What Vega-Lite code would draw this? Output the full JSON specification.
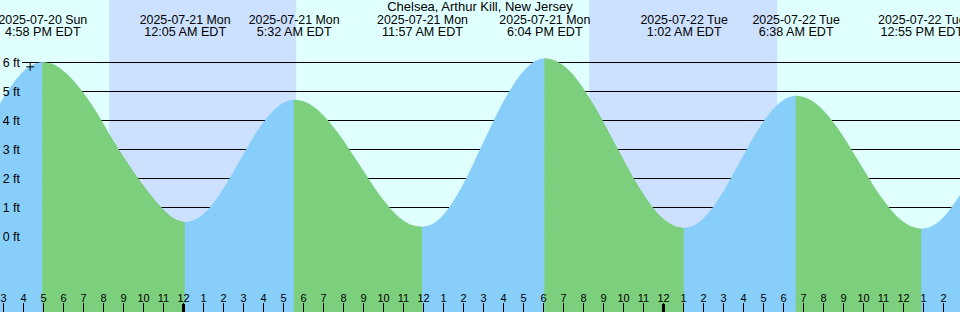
{
  "$schema": "https://vega.github.io/schema/vega-lite/v6.json",
  "width": 960,
  "height": 312,
  "autosize": {"type": "none"},
  "padding": 0,
  "background": "#e0ffff",
  "config": {"view": {"stroke": null}, "font": "Liberation Sans"},
  "datasets": {
    "night": [
      {"start": "2025-07-20T20:17", "end": "2025-07-21T05:38"},
      {"start": "2025-07-21T20:17", "end": "2025-07-22T05:41"}
    ],
    "grid": [
      {"ft": 0, "label": "0 ft"}, {"ft": 1, "label": "1 ft"}, {"ft": 2, "label": "2 ft"}, {"ft": 3, "label": "3 ft"},
      {"ft": 4, "label": "4 ft"}, {"ft": 5, "label": "5 ft"}, {"ft": 6, "label": "6 ft"}
    ],
    "hours": [
      {"time": "2025-07-20T15:00"}, {"time": "2025-07-20T16:00"}, {"time": "2025-07-20T17:00"}, {"time": "2025-07-20T18:00"},
      {"time": "2025-07-20T19:00"}, {"time": "2025-07-20T20:00"}, {"time": "2025-07-20T21:00"}, {"time": "2025-07-20T22:00"},
      {"time": "2025-07-20T23:00"}, {"time": "2025-07-21T00:00"}, {"time": "2025-07-21T01:00"}, {"time": "2025-07-21T02:00"},
      {"time": "2025-07-21T03:00"}, {"time": "2025-07-21T04:00"}, {"time": "2025-07-21T05:00"}, {"time": "2025-07-21T06:00"},
      {"time": "2025-07-21T07:00"}, {"time": "2025-07-21T08:00"}, {"time": "2025-07-21T09:00"}, {"time": "2025-07-21T10:00"},
      {"time": "2025-07-21T11:00"}, {"time": "2025-07-21T12:00"}, {"time": "2025-07-21T13:00"}, {"time": "2025-07-21T14:00"},
      {"time": "2025-07-21T15:00"}, {"time": "2025-07-21T16:00"}, {"time": "2025-07-21T17:00"}, {"time": "2025-07-21T18:00"},
      {"time": "2025-07-21T19:00"}, {"time": "2025-07-21T20:00"}, {"time": "2025-07-21T21:00"}, {"time": "2025-07-21T22:00"},
      {"time": "2025-07-21T23:00"}, {"time": "2025-07-22T00:00"}, {"time": "2025-07-22T01:00"}, {"time": "2025-07-22T02:00"},
      {"time": "2025-07-22T03:00"}, {"time": "2025-07-22T04:00"}, {"time": "2025-07-22T05:00"}, {"time": "2025-07-22T06:00"},
      {"time": "2025-07-22T07:00"}, {"time": "2025-07-22T08:00"}, {"time": "2025-07-22T09:00"}, {"time": "2025-07-22T10:00"},
      {"time": "2025-07-22T11:00"}, {"time": "2025-07-22T12:00"}, {"time": "2025-07-22T13:00"}, {"time": "2025-07-22T14:00"}
    ],
    "midnight": [{"time": "2025-07-21T00:00"}, {"time": "2025-07-22T00:00"}],
    "tide": [
      {"seg": "A", "phase": "rising", "time": "2025-07-20T14:47", "ft": 4.52},
      {"seg": "A", "phase": "rising", "time": "2025-07-20T15:30", "ft": 5.27},
      {"seg": "A", "phase": "rising", "time": "2025-07-20T16:00", "ft": 5.68},
      {"seg": "A", "phase": "rising", "time": "2025-07-20T16:30", "ft": 5.92},
      {"seg": "A", "phase": "rising", "time": "2025-07-20T16:58", "ft": 6.0},
      {"seg": "B", "phase": "falling", "time": "2025-07-20T16:58", "ft": 6.0},
      {"seg": "B", "phase": "falling", "time": "2025-07-20T17:34", "ft": 5.9},
      {"seg": "B", "phase": "falling", "time": "2025-07-20T18:09", "ft": 5.6},
      {"seg": "B", "phase": "falling", "time": "2025-07-20T19:20", "ft": 4.6},
      {"seg": "B", "phase": "falling", "time": "2025-07-20T20:31", "ft": 3.25},
      {"seg": "B", "phase": "falling", "time": "2025-07-20T21:43", "ft": 2.0},
      {"seg": "B", "phase": "falling", "time": "2025-07-20T22:54", "ft": 0.98},
      {"seg": "B", "phase": "falling", "time": "2025-07-20T23:29", "ft": 0.62},
      {"seg": "B", "phase": "falling", "time": "2025-07-21T00:05", "ft": 0.48},
      {"seg": "C", "phase": "rising", "time": "2025-07-21T00:05", "ft": 0.48},
      {"seg": "C", "phase": "rising", "time": "2025-07-21T00:32", "ft": 0.55},
      {"seg": "C", "phase": "rising", "time": "2025-07-21T01:00", "ft": 0.76},
      {"seg": "C", "phase": "rising", "time": "2025-07-21T01:54", "ft": 1.53},
      {"seg": "C", "phase": "rising", "time": "2025-07-21T02:49", "ft": 2.59},
      {"seg": "C", "phase": "rising", "time": "2025-07-21T03:43", "ft": 3.64},
      {"seg": "C", "phase": "rising", "time": "2025-07-21T04:38", "ft": 4.41},
      {"seg": "C", "phase": "rising", "time": "2025-07-21T05:05", "ft": 4.62},
      {"seg": "C", "phase": "rising", "time": "2025-07-21T05:32", "ft": 4.7},
      {"seg": "D", "phase": "falling", "time": "2025-07-21T05:32", "ft": 4.7},
      {"seg": "D", "phase": "falling", "time": "2025-07-21T06:04", "ft": 4.63},
      {"seg": "D", "phase": "falling", "time": "2025-07-21T06:36", "ft": 4.41},
      {"seg": "D", "phase": "falling", "time": "2025-07-21T07:40", "ft": 3.6},
      {"seg": "D", "phase": "falling", "time": "2025-07-21T08:45", "ft": 2.5},
      {"seg": "D", "phase": "falling", "time": "2025-07-21T09:49", "ft": 1.4},
      {"seg": "D", "phase": "falling", "time": "2025-07-21T10:53", "ft": 0.59},
      {"seg": "D", "phase": "falling", "time": "2025-07-21T11:25", "ft": 0.38},
      {"seg": "D", "phase": "falling", "time": "2025-07-21T11:57", "ft": 0.32},
      {"seg": "E", "phase": "rising", "time": "2025-07-21T11:57", "ft": 0.32},
      {"seg": "E", "phase": "rising", "time": "2025-07-21T12:28", "ft": 0.42},
      {"seg": "E", "phase": "rising", "time": "2025-07-21T12:58", "ft": 0.71},
      {"seg": "E", "phase": "rising", "time": "2025-07-21T13:59", "ft": 1.77},
      {"seg": "E", "phase": "rising", "time": "2025-07-21T15:00", "ft": 3.22},
      {"seg": "E", "phase": "rising", "time": "2025-07-21T16:02", "ft": 4.67},
      {"seg": "E", "phase": "rising", "time": "2025-07-21T17:03", "ft": 5.72},
      {"seg": "E", "phase": "rising", "time": "2025-07-21T17:33", "ft": 6.02},
      {"seg": "E", "phase": "rising", "time": "2025-07-21T18:04", "ft": 6.13},
      {"seg": "F", "phase": "falling", "time": "2025-07-21T18:04", "ft": 6.13},
      {"seg": "F", "phase": "falling", "time": "2025-07-21T18:39", "ft": 6.03},
      {"seg": "F", "phase": "falling", "time": "2025-07-21T19:14", "ft": 5.74},
      {"seg": "F", "phase": "falling", "time": "2025-07-21T20:23", "ft": 4.66},
      {"seg": "F", "phase": "falling", "time": "2025-07-21T21:33", "ft": 3.2},
      {"seg": "F", "phase": "falling", "time": "2025-07-21T22:43", "ft": 1.74},
      {"seg": "F", "phase": "falling", "time": "2025-07-21T23:52", "ft": 0.67},
      {"seg": "F", "phase": "falling", "time": "2025-07-22T00:27", "ft": 0.38},
      {"seg": "F", "phase": "falling", "time": "2025-07-22T01:02", "ft": 0.28},
      {"seg": "G", "phase": "rising", "time": "2025-07-22T01:02", "ft": 0.28},
      {"seg": "G", "phase": "rising", "time": "2025-07-22T01:30", "ft": 0.36},
      {"seg": "G", "phase": "rising", "time": "2025-07-22T01:58", "ft": 0.59},
      {"seg": "G", "phase": "rising", "time": "2025-07-22T02:54", "ft": 1.42},
      {"seg": "G", "phase": "rising", "time": "2025-07-22T03:50", "ft": 2.56},
      {"seg": "G", "phase": "rising", "time": "2025-07-22T04:46", "ft": 3.7},
      {"seg": "G", "phase": "rising", "time": "2025-07-22T05:42", "ft": 4.53},
      {"seg": "G", "phase": "rising", "time": "2025-07-22T06:10", "ft": 4.76},
      {"seg": "G", "phase": "rising", "time": "2025-07-22T06:38", "ft": 4.84},
      {"seg": "H", "phase": "falling", "time": "2025-07-22T06:38", "ft": 4.84},
      {"seg": "H", "phase": "falling", "time": "2025-07-22T07:09", "ft": 4.76},
      {"seg": "H", "phase": "falling", "time": "2025-07-22T07:41", "ft": 4.53},
      {"seg": "H", "phase": "falling", "time": "2025-07-22T08:44", "ft": 3.69},
      {"seg": "H", "phase": "falling", "time": "2025-07-22T09:46", "ft": 2.55},
      {"seg": "H", "phase": "falling", "time": "2025-07-22T10:49", "ft": 1.4},
      {"seg": "H", "phase": "falling", "time": "2025-07-22T11:52", "ft": 0.56},
      {"seg": "H", "phase": "falling", "time": "2025-07-22T12:24", "ft": 0.33},
      {"seg": "H", "phase": "falling", "time": "2025-07-22T12:55", "ft": 0.25},
      {"seg": "I", "phase": "rising", "time": "2025-07-22T12:55", "ft": 0.25},
      {"seg": "I", "phase": "rising", "time": "2025-07-22T13:25", "ft": 0.34},
      {"seg": "I", "phase": "rising", "time": "2025-07-22T13:55", "ft": 0.59},
      {"seg": "I", "phase": "rising", "time": "2025-07-22T14:25", "ft": 1.0},
      {"seg": "I", "phase": "rising", "time": "2025-07-22T14:55", "ft": 1.5}
    ],
    "events": [
      {"time": "2025-07-20T16:58", "kind": "high", "ft": 6.0, "dateLabel": "2025-07-20 Sun", "timeLabel": "4:58 PM EDT"},
      {"time": "2025-07-21T00:05", "kind": "low", "ft": 0.48, "dateLabel": "2025-07-21 Mon", "timeLabel": "12:05 AM EDT"},
      {"time": "2025-07-21T05:32", "kind": "high", "ft": 4.7, "dateLabel": "2025-07-21 Mon", "timeLabel": "5:32 AM EDT"},
      {"time": "2025-07-21T11:57", "kind": "low", "ft": 0.32, "dateLabel": "2025-07-21 Mon", "timeLabel": "11:57 AM EDT"},
      {"time": "2025-07-21T18:04", "kind": "high", "ft": 6.13, "dateLabel": "2025-07-21 Mon", "timeLabel": "6:04 PM EDT"},
      {"time": "2025-07-22T01:02", "kind": "low", "ft": 0.28, "dateLabel": "2025-07-22 Tue", "timeLabel": "1:02 AM EDT"},
      {"time": "2025-07-22T06:38", "kind": "high", "ft": 4.84, "dateLabel": "2025-07-22 Tue", "timeLabel": "6:38 AM EDT"},
      {"time": "2025-07-22T12:55", "kind": "low", "ft": 0.25, "dateLabel": "2025-07-22 Tue", "timeLabel": "12:55 PM EDT"}
    ],
    "now": [{"time": "2025-07-20T16:20", "ft": 5.85}],
    "station": [{"name": "Chelsea, Arthur Kill, New Jersey"}]
  },
  "layer": [
    {
      "data": {"name": "night"},
      "mark": {"type": "rect", "color": "#cce0ff"},
      "encoding": {
        "x": {"field": "start", "type": "temporal", "axis": null,
              "scale": {"domain": [{"year": 2025, "month": 7, "date": 20, "hours": 14, "minutes": 49, "seconds": 30}, {"year": 2025, "month": 7, "date": 22, "hours": 14, "minutes": 49, "seconds": 30}], "nice": false}},
        "x2": {"field": "end"}
      }
    },
    {
      "data": {"name": "grid"},
      "mark": {"type": "rule", "color": "black", "strokeWidth": 1},
      "encoding": {
        "y": {"field": "ft", "type": "quantitative", "axis": null,
              "scale": {"domain": [-2.6034, 8.1552], "nice": false, "zero": false}},
        "x": {"datum": {"year": 2025, "month": 7, "date": 20, "hours": 15, "minutes": 55, "seconds": 30}, "type": "temporal", "axis": null,
              "scale": {"domain": [{"year": 2025, "month": 7, "date": 20, "hours": 14, "minutes": 49, "seconds": 30}, {"year": 2025, "month": 7, "date": 22, "hours": 14, "minutes": 49, "seconds": 30}], "nice": false}},
        "x2": {"datum": {"year": 2025, "month": 7, "date": 22, "hours": 14, "minutes": 49, "seconds": 30}}
      }
    },
    {
      "data": {"name": "tide"},
      "mark": {"type": "area", "interpolate": "monotone", "strokeWidth": 1},
      "encoding": {
        "x": {"field": "time", "type": "temporal", "axis": null,
              "scale": {"domain": [{"year": 2025, "month": 7, "date": 20, "hours": 14, "minutes": 49, "seconds": 30}, {"year": 2025, "month": 7, "date": 22, "hours": 14, "minutes": 49, "seconds": 30}], "nice": false}},
        "y": {"field": "ft", "type": "quantitative", "stack": null, "axis": null,
              "scale": {"domain": [-2.6034, 8.1552], "nice": false, "zero": false}},
        "y2": {"datum": -2.6034},
        "color": {"field": "phase", "type": "nominal", "legend": null,
                  "scale": {"domain": ["rising", "falling"], "range": ["#87cefa", "#7ccf7c"]}},
        "stroke": {"field": "phase", "type": "nominal", "legend": null,
                  "scale": {"domain": ["rising", "falling"], "range": ["#87cefa", "#7ccf7c"]}},
        "detail": {"field": "seg"}
      }
    },
    {
      "data": {"name": "hours"},
      "mark": {"type": "rule", "color": "black", "strokeWidth": 1},
      "encoding": {
        "x": {"field": "time", "type": "temporal", "axis": null,
              "scale": {"domain": [{"year": 2025, "month": 7, "date": 20, "hours": 14, "minutes": 49, "seconds": 30}, {"year": 2025, "month": 7, "date": 22, "hours": 14, "minutes": 49, "seconds": 30}], "nice": false}},
        "y": {"datum": -2.2931, "type": "quantitative", "axis": null,
              "scale": {"domain": [-2.6034, 8.1552], "nice": false, "zero": false}},
        "y2": {"datum": -2.6034}
      }
    },
    {
      "data": {"name": "midnight"},
      "mark": {"type": "rule", "color": "black", "strokeWidth": 3},
      "encoding": {
        "x": {"field": "time", "type": "temporal", "axis": null,
              "scale": {"domain": [{"year": 2025, "month": 7, "date": 20, "hours": 14, "minutes": 49, "seconds": 30}, {"year": 2025, "month": 7, "date": 22, "hours": 14, "minutes": 49, "seconds": 30}], "nice": false}},
        "y": {"datum": -2.3276, "type": "quantitative", "axis": null,
              "scale": {"domain": [-2.6034, 8.1552], "nice": false, "zero": false}},
        "y2": {"datum": -2.6034}
      }
    },
    {
      "data": {"name": "hours"},
      "mark": {"type": "text", "fontSize": 11, "align": "center", "baseline": "alphabetic", "color": "black"},
      "encoding": {
        "x": {"field": "time", "type": "temporal", "axis": null,
              "scale": {"domain": [{"year": 2025, "month": 7, "date": 20, "hours": 14, "minutes": 49, "seconds": 30}, {"year": 2025, "month": 7, "date": 22, "hours": 14, "minutes": 49, "seconds": 30}], "nice": false}},
        "y": {"datum": -2.2586, "type": "quantitative", "axis": null,
              "scale": {"domain": [-2.6034, 8.1552], "nice": false, "zero": false}},
        "text": {"field": "time", "type": "temporal", "format": "%-I"}
      }
    },
    {
      "data": {"name": "grid"},
      "mark": {"type": "text", "fontSize": 12.4, "align": "right", "baseline": "middle", "color": "black"},
      "encoding": {
        "x": {"datum": {"year": 2025, "month": 7, "date": 20, "hours": 15, "minutes": 49, "seconds": 30}, "type": "temporal", "axis": null,
              "scale": {"domain": [{"year": 2025, "month": 7, "date": 20, "hours": 14, "minutes": 49, "seconds": 30}, {"year": 2025, "month": 7, "date": 22, "hours": 14, "minutes": 49, "seconds": 30}], "nice": false}},
        "y": {"field": "ft", "type": "quantitative", "axis": null,
              "scale": {"domain": [-2.6034, 8.1552], "nice": false, "zero": false}},
        "text": {"field": "label"}
      }
    },
    {
      "data": {"name": "now"},
      "mark": {"type": "point", "shape": "M-1,0H1M0,-1V1", "size": 64, "filled": false, "stroke": "black", "strokeWidth": 1, "opacity": 1},
      "encoding": {
        "x": {"field": "time", "type": "temporal", "axis": null,
              "scale": {"domain": [{"year": 2025, "month": 7, "date": 20, "hours": 14, "minutes": 49, "seconds": 30}, {"year": 2025, "month": 7, "date": 22, "hours": 14, "minutes": 49, "seconds": 30}], "nice": false}},
        "y": {"field": "ft", "type": "quantitative", "axis": null,
              "scale": {"domain": [-2.6034, 8.1552], "nice": false, "zero": false}}
      }
    },
    {
      "data": {"name": "events"},
      "mark": {"type": "text", "fontSize": 12.4, "align": "center", "baseline": "alphabetic", "color": "black"},
      "encoding": {
        "x": {"field": "time", "type": "temporal", "axis": null,
              "scale": {"domain": [{"year": 2025, "month": 7, "date": 20, "hours": 14, "minutes": 49, "seconds": 30}, {"year": 2025, "month": 7, "date": 22, "hours": 14, "minutes": 49, "seconds": 30}], "nice": false}},
        "y": {"datum": 7.328, "type": "quantitative", "axis": null,
              "scale": {"domain": [-2.6034, 8.1552], "nice": false, "zero": false}},
        "text": {"field": "dateLabel"}
      }
    },
    {
      "data": {"name": "events"},
      "mark": {"type": "text", "fontSize": 12.6, "align": "center", "baseline": "alphabetic", "color": "black"},
      "encoding": {
        "x": {"field": "time", "type": "temporal", "axis": null,
              "scale": {"domain": [{"year": 2025, "month": 7, "date": 20, "hours": 14, "minutes": 49, "seconds": 30}, {"year": 2025, "month": 7, "date": 22, "hours": 14, "minutes": 49, "seconds": 30}], "nice": false}},
        "y": {"datum": 6.914, "type": "quantitative", "axis": null,
              "scale": {"domain": [-2.6034, 8.1552], "nice": false, "zero": false}},
        "text": {"field": "timeLabel"}
      }
    },
    {
      "data": {"name": "station"},
      "mark": {"type": "text", "fontSize": 13, "align": "center", "baseline": "alphabetic", "color": "black"},
      "encoding": {
        "x": {"datum": {"year": 2025, "month": 7, "date": 21, "hours": 14, "minutes": 49, "seconds": 30}, "type": "temporal", "axis": null,
              "scale": {"domain": [{"year": 2025, "month": 7, "date": 20, "hours": 14, "minutes": 49, "seconds": 30}, {"year": 2025, "month": 7, "date": 22, "hours": 14, "minutes": 49, "seconds": 30}], "nice": false}},
        "y": {"datum": 7.766, "type": "quantitative", "axis": null,
              "scale": {"domain": [-2.6034, 8.1552], "nice": false, "zero": false}},
        "text": {"field": "name"}
      }
    }
  ]
}
